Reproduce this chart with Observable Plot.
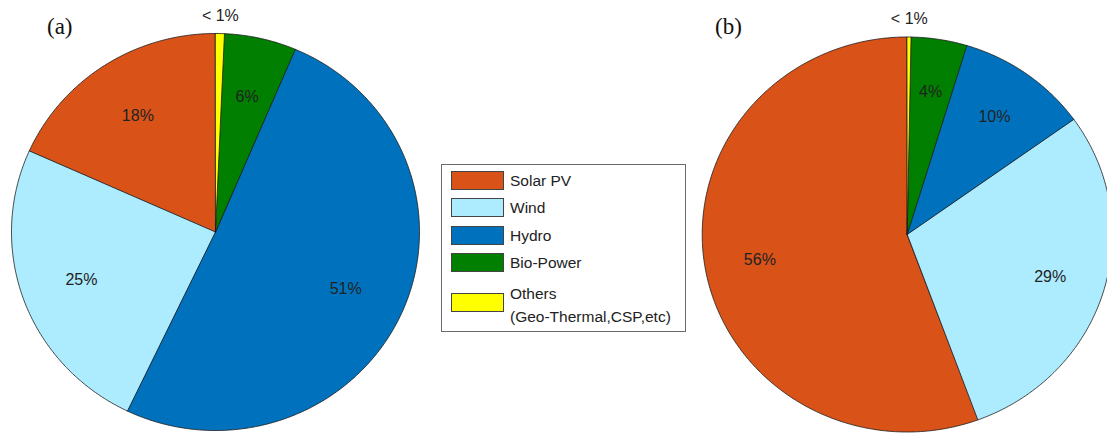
<!DOCTYPE html>
<html>
<head>
<meta charset="utf-8">
<script src="https://cdn.jsdelivr.net/npm/d3@7"></script>
<script src="https://cdn.jsdelivr.net/npm/@observablehq/plot@0.6"></script>
<style>
  html, body { margin: 0; padding: 0; background: #fff; }
  #wrap { position: relative; width: 1107px; height: 434px; overflow: hidden; font-family: "Liberation Sans", Arial, sans-serif; }
  .panel { position: absolute; top: 0; }
  .ptitle { position: absolute; font-family: "Liberation Serif", "Times New Roman", serif; font-size: 23px; color: #111; line-height: 1; }
  #legend { position: absolute; left: 441px; top: 164px; width: 245px; height: 168px; box-sizing: border-box; border: 1px solid #6a6a6a; background: #fff; }
  .sw { position: absolute; left: 9px; width: 53px; height: 19px; box-sizing: border-box; border: 1px solid #444; }
  .lt { position: absolute; left: 68px; font-size: 15.5px; color: #222; line-height: 22.5px; white-space: pre; }
</style>
</head>
<body>
<div id="wrap"></div>
<script>
// ---- data ----
const categories = ["Solar PV", "Wind", "Hydro", "Bio-Power", "Others"];
const legendLabels = ["Solar PV", "Wind", "Hydro", "Bio-Power", "Others\n(Geo-Thermal,CSP,etc)"];
const sliceColors = ["#D95319", "#ADEBFF", "#0072BD", "#007F00", "#FFFF00"];
const valuesA = [18.3, 24.6, 50.7, 5.7, 0.7];   // panel (a), percent
const valuesB = [55.6, 29.3, 10.4, 4.4, 0.3];   // panel (b), percent
const panelTitles = ["(a)", "(b)"];

// ---- geometry from data (angles counter-clockwise from 12 o'clock) ----
function slicePolys(values) {
  const pts = [];
  let cum = 0;
  values.forEach((v, i) => {
    const a0 = cum / 100 * 2 * Math.PI, a1 = (cum + v) / 100 * 2 * Math.PI;
    const n = Math.max(2, Math.ceil((a1 - a0) / (Math.PI / 360)));
    pts.push({cat: categories[i], x: 0, y: 0});
    for (let k = 0; k <= n; k++) {
      const t = a0 + (a1 - a0) * k / n;
      pts.push({cat: categories[i], x: -Math.sin(t), y: Math.cos(t)});
    }
    cum += v;
  });
  return pts;
}
function sliceLabels(values, rIn) {
  const out = [];
  let cum = 0;
  values.forEach((v, i) => {
    const mid = (cum + v / 2) / 100 * 2 * Math.PI;
    const r = v < 1 ? 1.09 : rIn;
    out.push({x: -Math.sin(mid) * r, y: Math.cos(mid) * r, text: v < 1 ? "< 1%" : Math.round(v) + "%"});
    cum += v;
  });
  return out;
}

function pie(values, w, h, cx, cy, rx, ry, rIn) {
  return Plot.plot({
    width: w, height: h,
    marginTop: 0, marginRight: 0, marginBottom: 0, marginLeft: 0,
    x: {domain: [-cx / rx, (w - cx) / rx], range: [0, w], axis: null},
    y: {domain: [-(h - cy) / ry, cy / ry], range: [h, 0], axis: null},
    color: {domain: categories, range: sliceColors},
    style: {fontFamily: "Liberation Sans, Arial, sans-serif", background: "transparent", overflow: "visible"},
    marks: [
      Plot.line(slicePolys(values), {x: "x", y: "y", z: "cat", fill: "cat", stroke: "#1a1a1a", strokeWidth: 0.8, curve: "linear-closed", strokeLinejoin: "round"}),
      Plot.text(sliceLabels(values, rIn), {x: "x", y: "y", text: "text", fontSize: 16, fill: "#222"})
    ]
  });
}

const wrap = document.getElementById("wrap");
const pa = pie(valuesA, 430, 434, 215, 231.5, 204, 198.5, 0.70);
pa.classList.add("panel"); pa.style.left = "0px";
wrap.appendChild(pa);
const pb = pie(valuesB, 417, 434, 216.7, 234, 205, 197.5, 0.73);
pb.classList.add("panel"); pb.style.left = "690px";
wrap.appendChild(pb);

// panel titles
[[panelTitles[0], 47, 15], [panelTitles[1], 715, 15]].forEach(([t, l, tp]) => {
  const d = document.createElement("div");
  d.className = "ptitle"; d.textContent = t;
  d.style.left = l + "px"; d.style.top = tp + "px";
  wrap.appendChild(d);
});

// legend
const lg = document.createElement("div");
lg.id = "legend";
const swTops = [6, 33, 61, 88, 128];
categories.forEach((c, i) => {
  const s = document.createElement("div");
  s.className = "sw"; s.style.top = swTops[i] + "px"; s.style.background = sliceColors[i];
  lg.appendChild(s);
  const t = document.createElement("div");
  t.className = "lt"; t.textContent = legendLabels[i];
  t.style.top = (i < 4 ? swTops[i] - 1.5 : swTops[i] - 10) + "px";
  lg.appendChild(t);
});
wrap.appendChild(lg);
</script>
</body>
</html>
